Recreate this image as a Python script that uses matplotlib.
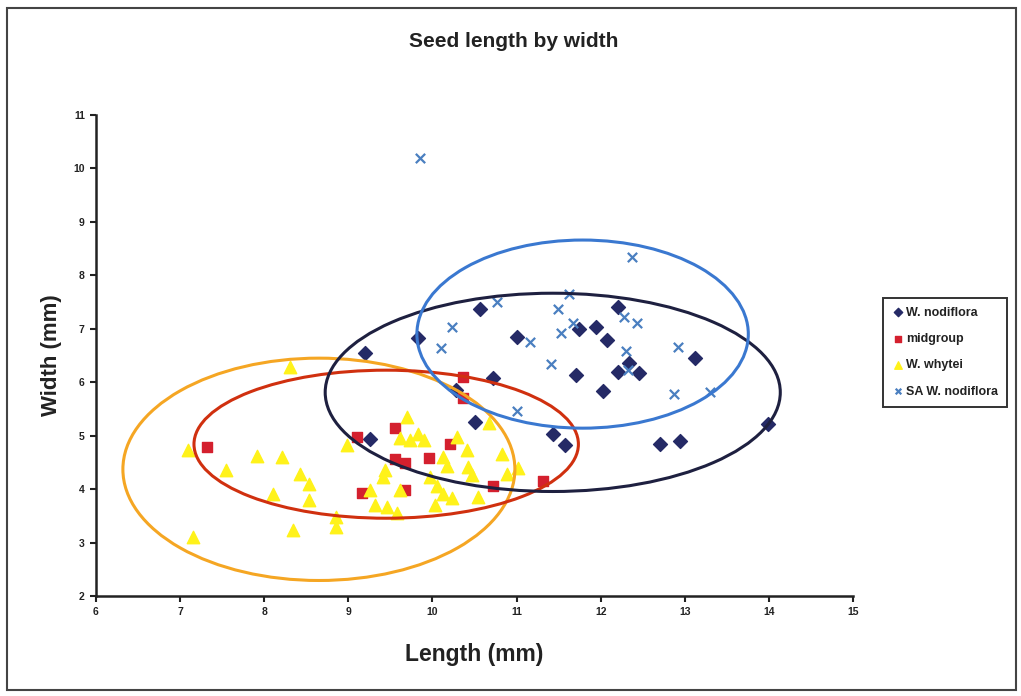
import matplotlib.pyplot as plt
from matplotlib.patches import Ellipse, Rectangle

plt.rcParams['font.family'] = ['Liberation Sans', 'DejaVu Sans']

# W. nodiflora
nod_x = [9.20, 9.83, 10.57, 11.00, 11.74, 11.95, 12.21, 12.07, 13.12, 12.34, 12.20, 12.46,
         11.71, 12.03, 10.72, 10.28, 10.51, 11.43, 11.58, 12.71, 12.94, 13.99, 9.26]
nod_y = [6.55, 6.82, 7.37, 6.84, 6.99, 7.03, 7.41, 6.79, 6.45, 6.36, 6.19, 6.17,
         6.13, 5.83, 6.07, 5.85, 5.25, 5.04, 4.82, 4.85, 4.90, 5.21, 4.93]

# midgroup
mid_x = [7.32, 9.10, 9.55, 9.55, 9.67, 9.96, 10.21, 10.36, 10.36, 9.16, 9.67, 10.72, 11.31]
mid_y = [4.78, 4.97, 5.15, 4.57, 4.48, 4.58, 4.85, 6.09, 5.70, 3.92, 3.98, 4.05, 4.15]

# W. whytei
why_x = [8.31, 7.09, 7.91, 8.21, 7.55, 8.43, 8.53, 8.11, 8.53, 8.85, 8.85, 8.34, 7.15,
         8.99, 9.44, 9.41, 9.26, 9.32, 9.46, 9.58, 9.70, 9.61, 9.73, 9.83, 9.90, 10.29,
         10.41, 10.83, 11.02, 10.89, 10.13, 10.17, 10.42, 10.47, 9.97, 10.05, 9.61,
         10.13, 10.23, 10.54, 10.03, 10.67]
why_y = [6.28, 4.74, 4.61, 4.60, 4.35, 4.28, 4.09, 3.90, 3.79, 3.47, 3.30, 3.24, 3.10,
         4.82, 4.35, 4.22, 3.98, 3.70, 3.66, 3.55, 5.34, 4.95, 4.91, 5.03, 4.91, 4.97,
         4.73, 4.65, 4.39, 4.28, 4.60, 4.43, 4.41, 4.26, 4.22, 4.05, 3.99,
         3.90, 3.83, 3.85, 3.70, 5.23]

# SA W. nodiflora
sa_x = [9.85, 12.37, 11.62, 10.77, 11.49, 12.28, 12.43, 10.23, 10.10, 11.53, 11.16, 11.67,
        12.30, 12.92, 11.41, 12.33, 12.87, 13.30, 11.00]
sa_y = [10.19, 8.34, 7.65, 7.50, 7.37, 7.22, 7.11, 7.03, 6.64, 6.92, 6.75, 7.11,
        6.58, 6.65, 6.34, 6.22, 5.78, 5.82, 5.46]

# ellipses: (center x, center y, width, height)
ell_nod = (11.43, 5.81, 5.41, 3.71)
ell_mid = (9.45, 4.84, 4.57, 2.77)
ell_why = (8.65, 4.37, 4.66, 4.16)
ell_sa = (11.785, 6.90, 3.94, 3.52)

fig = plt.figure(figsize=(10.21, 6.96), dpi=100)
ax = fig.add_axes([0.094, 0.1437, 0.7415, 0.6911])

ax.scatter(nod_x, nod_y, marker='D', s=50, color='#252a66', label='W. nodiflora', zorder=2)
ax.scatter(mid_x, mid_y, marker='s', s=62, color='#d4202e', label='midgroup', zorder=2)
ax.scatter(why_x, why_y, marker='^', s=80, color='#fff21a', label='W. whytei', zorder=2)
ax.scatter(sa_x, sa_y, marker='x', s=45, color='#4a7fc0', linewidths=1.6,
           label='SA W. nodiflora', zorder=2)

for e, c in [(ell_why, '#f5a623'), (ell_mid, '#d0300f'), (ell_nod, '#1e2040'), (ell_sa, '#3a78d0')]:
    ax.add_patch(Ellipse((e[0], e[1]), e[2], e[3], fill=False, edgecolor=c, lw=2.2, zorder=3))

ax.set_xlim(6, 15)
ax.set_ylim(2, 11)
ax.set_xticks(range(6, 16))
ax.set_yticks(range(2, 12))
for s in ['top', 'right']:
    ax.spines[s].set_visible(False)
for s in ['left', 'bottom']:
    ax.spines[s].set_linewidth(1.8)
    ax.spines[s].set_color('#222222')
ax.tick_params(direction='out', length=4, width=1.5, labelsize=7.5, colors='#222222', pad=4)
for lb in ax.get_xticklabels() + ax.get_yticklabels():
    lb.set_fontweight('bold')

ax.set_xlabel('Length (mm)', fontsize=16.5, fontweight='bold', color='#222222')
ax.set_ylabel('Width (mm)', fontsize=16, fontweight='bold', color='#222222')
ax.xaxis.set_label_coords(0.5, -0.098)
ax.yaxis.set_label_coords(-0.045, 0.5)

fig.text(0.503, 0.94, 'Seed length by width', ha='center', va='center',
         fontsize=15, fontweight='bold', color='#222222')

leg = ax.legend(loc='upper left', bbox_to_anchor=(0.865, 0.572), bbox_transform=fig.transFigure,
                borderaxespad=0, prop={'size': 9, 'weight': 'bold'}, frameon=True, fancybox=False,
                markerscale=0.6, handletextpad=0.25, handlelength=0.9, labelspacing=1.15,
                borderpad=0.7)
leg.get_frame().set_edgecolor('black')
leg.get_frame().set_linewidth(1.4)
for t in leg.get_texts():
    t.set_color('#222222')

fig.patches.append(Rectangle((0.007, 0.009), 0.988, 0.98, transform=fig.transFigure,
                             fill=False, edgecolor='#444444', lw=1.5))

fig.savefig('out.png', dpi=100)
